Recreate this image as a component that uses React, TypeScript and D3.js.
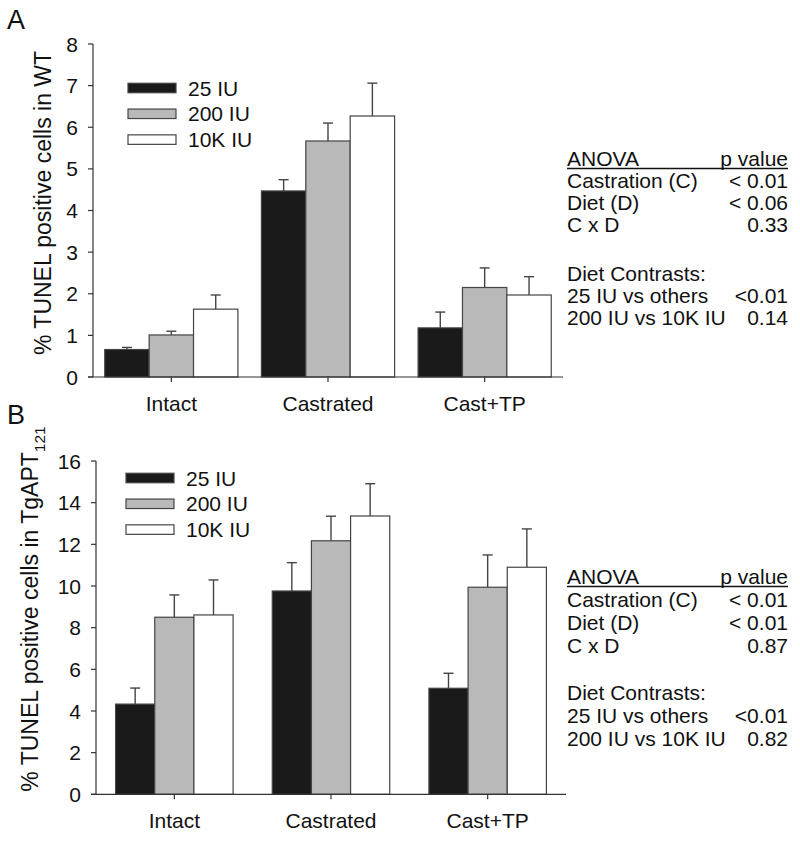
import React from "react";
import * as d3 from "d3";

const categories = ["Intact", "Castrated", "Cast+TP"];
const seriesNames = ["25 IU", "200 IU", "10K IU"];
const seriesFill = ["#1a1a1a", "#b9b9b9", "#ffffff"];

// Panel A (WT)
const wt25 = [0.66, 4.47, 1.18];
const wt200 = [1.01, 5.67, 2.15];
const wt10k = [1.63, 6.27, 1.97];
const wt25se = [0.05, 0.27, 0.38];
const wt200se = [0.09, 0.43, 0.47];
const wt10kse = [0.34, 0.79, 0.44];
const wtTicks = [0, 1, 2, 3, 4, 5, 6, 7, 8];

// Panel B (TgAPT121)
const tg25 = [4.33, 9.76, 5.09];
const tg200 = [8.5, 12.17, 9.94];
const tg10k = [8.61, 13.36, 10.9];
const tg25se = [0.77, 1.36, 0.72];
const tg200se = [1.07, 1.18, 1.55];
const tg10kse = [1.68, 1.55, 1.84];
const tgTicks = [0, 2, 4, 6, 8, 10, 12, 14, 16];

const anovaA = [
  ["Castration (C)", "< 0.01"],
  ["Diet (D)", "< 0.06"],
  ["C x D", "0.33"],
];
const contrastsA = [
  ["25 IU vs others", "<0.01"],
  ["200 IU vs 10K IU", "0.14"],
];
const anovaB = [
  ["Castration (C)", "< 0.01"],
  ["Diet (D)", "< 0.01"],
  ["C x D", "0.87"],
];
const contrastsB = [
  ["25 IU vs others", "<0.01"],
  ["200 IU vs 10K IU", "0.82"],
];

const FONT = "'Liberation Sans', Arial, Helvetica, sans-serif";
const FS = 21;
const YFS = 23;
const AX = "#333";
const ST = "#444";

type PanelProps = {
  letter: string;
  letterY: number;
  means: number[][];
  ses: number[][];
  ticks: number[];
  yMax: number;
  yTop: number;
  yBottom: number;
  xLeft: number;
  xRight: number;
  padInner: number;
  legendX: number;
  legendY: number;
  labelX: number;
  labelY: number;
  sub?: string;
  labelMain: string;
  anova: string[][];
  contrasts: string[][];
  statY: number[];
};

function Panel(p: PanelProps) {
  const x = d3
    .scaleBand<string>()
    .domain(categories)
    .range([p.xLeft, p.xRight])
    .paddingInner(p.padInner)
    .paddingOuter(p.padInner / 2);
  const xs = d3
    .scaleBand<string>()
    .domain(seriesNames)
    .range([0, x.bandwidth()]);
  const y = d3.scaleLinear().domain([0, p.yMax]).range([p.yBottom, p.yTop]);
  const capW = 10;

  return (
    <g fontFamily={FONT}>
      <text x={7} y={p.letterY} fontSize={27} fill="#111">
        {p.letter}
      </text>
      {/* bars */}
      {seriesNames.map((s, si) =>
        categories.map((c, ci) => {
          const v = p.means[si][ci];
          const se = p.ses[si][ci];
          const bx = (x(c) as number) + (xs(s) as number);
          const bw = xs.bandwidth();
          const cx = bx + bw / 2;
          return (
            <g key={s + c}>
              <line x1={cx} x2={cx} y1={y(v)} y2={y(v + se)} stroke={ST} strokeWidth={1.4} />
              <line x1={cx - capW / 2} x2={cx + capW / 2} y1={y(v + se)} y2={y(v + se)} stroke={ST} strokeWidth={1.4} />
              <rect x={bx} y={y(v)} width={bw} height={y(0) - y(v)} fill={seriesFill[si]} stroke={ST} strokeWidth={1.2} />
            </g>
          );
        })
      )}
      {/* y axis */}
      <line x1={p.xLeft} x2={p.xLeft} y1={y(0)} y2={y(p.yMax)} stroke={AX} strokeWidth={1.2} />
      {p.ticks.map((t) => (
        <g key={t}>
          <line x1={p.xLeft - 5} x2={p.xLeft} y1={y(t)} y2={y(t)} stroke={AX} strokeWidth={1.2} />
          <text x={p.xLeft - 15} y={y(t)} dy="0.36em" textAnchor="end" fontSize={FS} fill="#111">
            {t}
          </text>
        </g>
      ))}
      {/* x axis */}
      <line x1={p.xLeft - 5} x2={p.xRight} y1={y(0)} y2={y(0)} stroke={AX} strokeWidth={1.2} />
      {categories.map((c) => {
        const cx = (x(c) as number) + x.bandwidth() / 2;
        return (
          <g key={c}>
            <line x1={cx} x2={cx} y1={y(0)} y2={y(0) + 5} stroke={AX} strokeWidth={1.2} />
            <text x={cx} y={y(0) + 34} textAnchor="middle" fontSize={FS} fill="#111">
              {c}
            </text>
          </g>
        );
      })}
      {/* y label */}
      <text
        transform={`translate(${p.labelX},${p.labelY}) rotate(-90)`}
        textAnchor="middle"
        fontSize={YFS}
        fill="#111"
      >
        {p.labelMain}
        {p.sub ? (
          <tspan fontSize={15.5} dy={7}>
            {p.sub}
          </tspan>
        ) : null}
      </text>
      {/* legend */}
      {seriesNames.map((s, si) => (
        <g key={s}>
          <rect x={p.legendX} y={p.legendY + si * 25.8 - 4.75} width={48} height={9.5} fill={seriesFill[si]} stroke={ST} strokeWidth={1.2} />
          <text x={p.legendX + 60} y={p.legendY + si * 25.8} dy="0.36em" fontSize={FS} fill="#111">
            {s}
          </text>
        </g>
      ))}
      {/* stats */}
      <g fontSize={FS} fill="#111">
        <text x={567} y={p.statY[0]}>ANOVA</text>
        <text x={788} y={p.statY[0]} textAnchor="end">p value</text>
        <line x1={567} x2={788} y1={p.statY[0] + 2.5} y2={p.statY[0] + 2.5} stroke="#111" strokeWidth={1.3} />
        {p.anova.map((r, i) => (
          <g key={r[0]}>
            <text x={567} y={p.statY[1 + i]}>{r[0]}</text>
            <text x={788} y={p.statY[1 + i]} textAnchor="end">{r[1]}</text>
          </g>
        ))}
        <text x={567} y={p.statY[4]}>Diet Contrasts:</text>
        {p.contrasts.map((r, i) => (
          <g key={r[0]}>
            <text x={567} y={p.statY[5 + i]}>{r[0]}</text>
            <text x={788} y={p.statY[5 + i]} textAnchor="end">{r[1]}</text>
          </g>
        ))}
      </g>
    </g>
  );
}

export default function App() {
  return (
    <svg
      width={800}
      height={841}
      style={{ position: "absolute", left: 0, top: 0, background: "#fff" }}
    >
      <rect width={800} height={841} fill="#fff" />
      <Panel
        letter="A"
        letterY={29}
        means={[wt25, wt200, wt10k]}
        ses={[wt25se, wt200se, wt10kse]}
        ticks={wtTicks}
        yMax={8}
        yTop={44}
        yBottom={377}
        xLeft={93}
        xRight={563}
        padInner={0.15}
        legendX={128}
        legendY={88}
        labelX={51}
        labelY={203}
        labelMain="% TUNEL positive cells in WT"
        anova={anovaA}
        contrasts={contrastsA}
        statY={[166, 188, 210, 232, 281, 303, 325]}
      />
      <Panel
        letter="B"
        letterY={424}
        means={[tg25, tg200, tg10k]}
        ses={[tg25se, tg200se, tg10kse]}
        ticks={tgTicks}
        yMax={16}
        yTop={461}
        yBottom={794.3}
        xLeft={96}
        xRight={566}
        padInner={0.25}
        legendX={126}
        legendY={478}
        labelX={38}
        labelY={609}
        labelMain="% TUNEL positive cells in TgAPT"
        sub="121"
        anova={anovaB}
        contrasts={contrastsB}
        statY={[584, 607, 630, 653, 700, 723, 746]}
      />
    </svg>
  );
}
